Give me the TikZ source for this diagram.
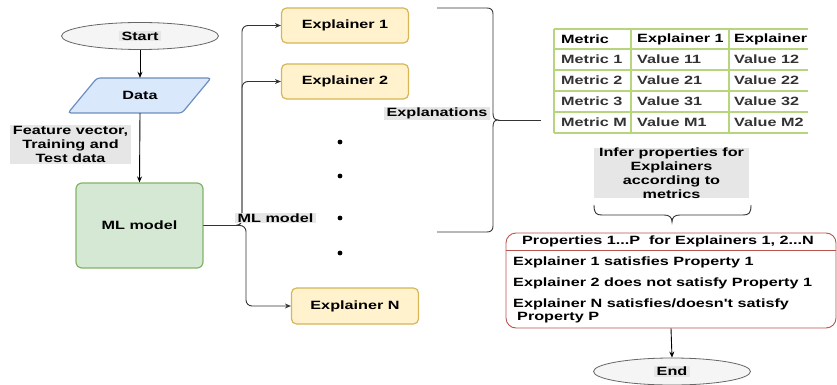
\documentclass[tikz,border=0pt]{standalone}
\usepackage{fontspec}
\newfontfamily\lblfont{Liberation Sans}[FakeStretch=1.35]
\usetikzlibrary{arrows.meta,shapes.geometric}
\definecolor{termfill}{HTML}{F5F5F5}
\definecolor{termline}{HTML}{666666}
\definecolor{datafill}{HTML}{DAE8FC}
\definecolor{dataline}{HTML}{6C8EBF}
\definecolor{mlfill}{HTML}{D5E8D4}
\definecolor{mlline}{HTML}{82B366}
\definecolor{expfill}{HTML}{FFF2CC}
\definecolor{expline}{HTML}{D6B656}
\definecolor{propline}{HTML}{B85450}
\definecolor{gridline}{HTML}{B7D57E}
\definecolor{tagfill}{HTML}{E6E6E6}
\definecolor{wire}{HTML}{333333}
\definecolor{celltext}{HTML}{333333}

\begin{document}
\begin{tikzpicture}[x=1pt,y=-1pt,
  every node/.style={font=\lblfont\bfseries\fontsize{12}{14}\selectfont, text=black},
  terminal/.style={ellipse, draw=termline, fill=termfill, line width=0.8pt,
    minimum width=157pt, minimum height=27pt, inner sep=0pt},
  tag/.style={fill=tagfill, inner xsep=3pt, inner ysep=1pt, align=center},
  explainer/.style={draw=expline, fill=expfill, rounded corners=5pt, line width=1.2pt,
    minimum width=127pt, minimum height=35pt, inner sep=0pt},
  mlbox/.style={draw=mlline, fill=mlfill, rounded corners=6pt, line width=1.2pt,
    minimum width=127pt, minimum height=85pt, inner sep=0pt},
  flow/.style={draw=black, line width=0.9pt, -{Stealth[length=6pt,width=5pt]}},
  branch/.style={draw=wire, line width=0.9pt, rounded corners=6pt,
    -{Stealth[length=6pt,width=5pt]}},
  cell/.style={anchor=west, inner sep=0pt},
  bodycell/.style={cell, text=celltext},
  item/.style={anchor=west, inner sep=0pt},
  brace/.style={draw=wire, line width=0.9pt}]

\useasboundingbox (0,0) rectangle (837,385);

% start terminal
\node[terminal] (start) at (140,36) {};
\node[tag] (starttxt) at (start.center) {Start};

% data (parallelogram)
\filldraw[fill=datafill, draw=dataline, line width=1.2pt, rounded corners=3pt]
  (97,78) -- (211,78) -- (182,113) -- (68,113) -- cycle;
\node[minimum width=143pt, minimum height=35pt, inner sep=0pt] (data) at (140,95.5) {Data};

% ML model
\node[mlbox] (ml) at (139.5,225.5) {ML model};

\draw[flow] (start.south) -- (data.north);
\draw[flow] (data.south) -- (ml.north);
\node[tag] (feat) at (70.5,144.5) {Feature vector,\\Training and\\Test data};

% explainers
\node[explainer] (e1) at (345,25.5) {Explainer 1};
\node[explainer] (e2) at (345,81.5) {Explainer 2};
\node[explainer, minimum height=36pt] (en) at (355,306) {Explainer N};

\coordinate (upbus) at (242,0);
\coordinate (downbus) at (246,0);
\draw[branch] (ml.east) -| (upbus |- e1.west) -- (e1.west);
\draw[branch] (ml.east) -| (upbus |- e2.west) -- (e2.west);
\draw[branch] (ml.east) -| (downbus |- en.west) -- (en.west);
\node[tag, inner ysep=0.5pt] (mllabel) at (275.5,218) {ML model};

% elided explainers
\foreach \yy in {142,176,218,253} \fill (340,\yy) circle (2.4pt);

% curly brace gathering the explanations
\draw[brace] (437,8) -- (487,8) .. controls (491,8) and (493,10) .. (493,14)
  -- (493,113) .. controls (493,117) and (494,120) .. (498,120)
  .. controls (494,120) and (493,123) .. (493,127)
  -- (493,226) .. controls (493,230) and (491,232) .. (487,232) -- (437,232);
\coordinate (bracetip) at (498,120);
\coordinate (tableedge) at (541,120);
\draw[brace] (bracetip) -- (tableedge);
\node[tag, inner ysep=0.5pt] (expl) at (437,113.5) {Explanations};

% metric table
\begin{scope}[draw=gridline, line width=1.2pt]
  \foreach \yy in {29,49,70,91,112,133} \draw (554,\yy) -- (808,\yy);
  \foreach \xx in {554,631,729} \draw (\xx,29) -- (\xx,133);
\end{scope}
\node[cell] (h1) at (561,39) {Metric};
\node[cell] (h2) at (637,39) {Explainer 1};
\node[cell] (h3) at (734,39) {Explainer};
\node[bodycell] (m1) at (561,59.5) {Metric 1};
\node[bodycell] (v11) at (637,59.5) {Value 11};
\node[bodycell] (v12) at (734,59.5) {Value 12};
\node[bodycell] (m2) at (561,80.5) {Metric 2};
\node[bodycell] (v21) at (637,80.5) {Value 21};
\node[bodycell] (v22) at (734,80.5) {Value 22};
\node[bodycell] (m3) at (561,101.5) {Metric 3};
\node[bodycell] (v31) at (637,101.5) {Value 31};
\node[bodycell] (v32) at (734,101.5) {Value 32};
\node[bodycell] (mm) at (561,122.5) {Metric M};
\node[bodycell] (vm1) at (637,122.5) {Value M1};
\node[bodycell] (vm2) at (734,122.5) {Value M2};

% inference step
\node[tag, inner xsep=5pt, inner ysep=0pt] (infer) at (671.5,173)
  {Infer properties for\\Explainers\\according to\\metrics};
\draw[brace] (594,205) .. controls (594,213) and (596,215) .. (602,215) -- (664,215)
  .. controls (669,215) and (672,217) .. (672,222)
  .. controls (672,217) and (675,215) .. (680,215) -- (743,215)
  .. controls (749,215) and (751,213) .. (751,205);

% properties list
\node[draw=propline, fill=white, rounded corners=10pt, line width=0.9pt,
  minimum width=330pt, minimum height=95pt, inner sep=0pt] (props) at (671,280.5) {};
\draw[propline, line width=0.8pt] (props.west |- 0,250) -- (props.east |- 0,250);
\node (propshead) at (668,241) {Properties 1...P\ \ for Explainers 1, 2...N};
\node[item] (p1) at (513,262) {Explainer 1 satisfies Property 1};
\node[item] (p2) at (513,283) {Explainer 2 does not satisfy Property 1};
\node[item] (p3) at (513,304) {Explainer N satisfies/doesn't satisfy};
\node[item] (p4) at (517,318) {Property P};

% end terminal
\node[terminal] (end) at (672,371.5) {};
\node[tag] (endtxt) at (end.center) {End};
\draw[flow] (props.south) -- (end.north);

\end{tikzpicture}
\end{document}
